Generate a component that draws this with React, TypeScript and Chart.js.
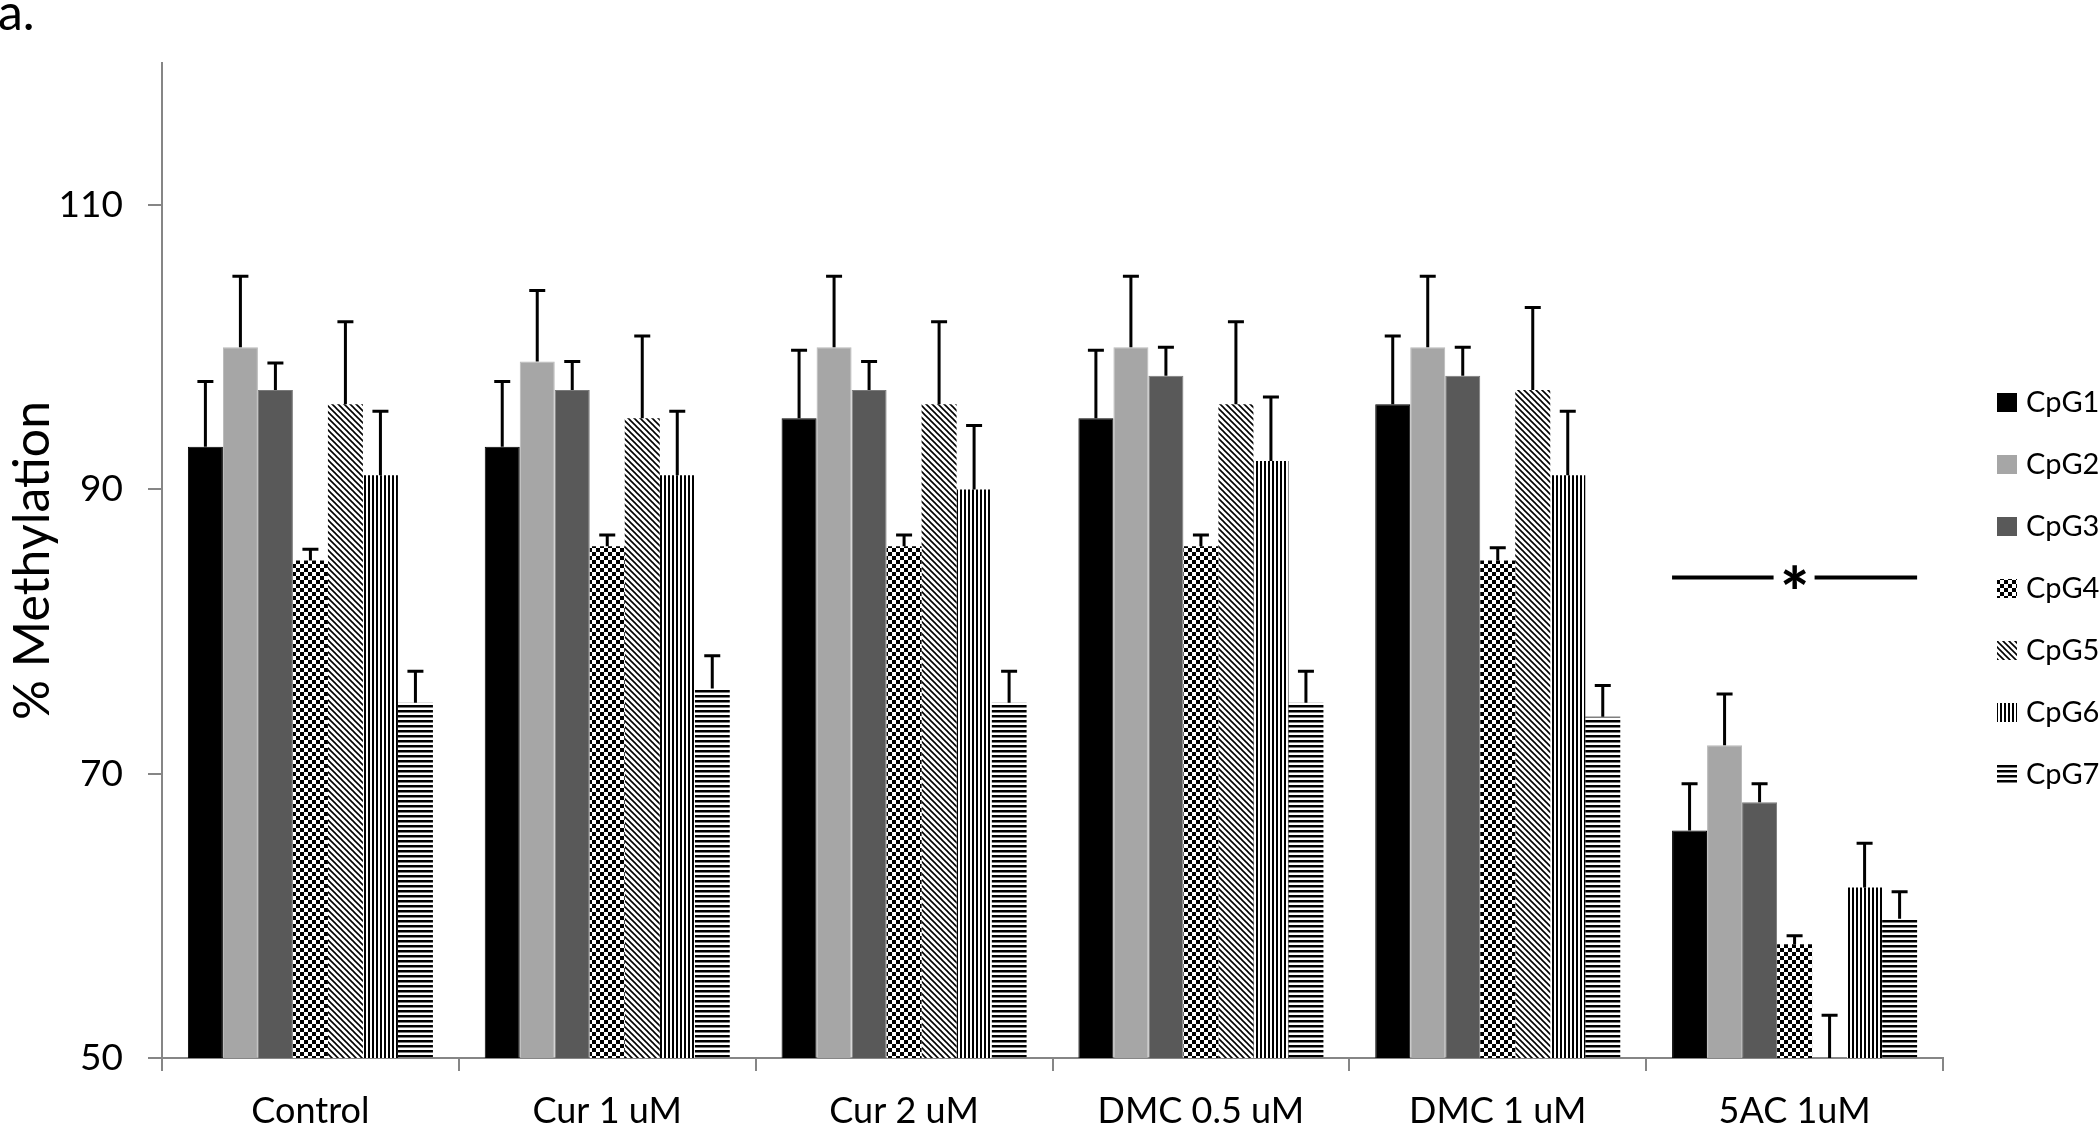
import React, { useEffect, useRef } from 'react';
import { Chart, registerables } from 'chart.js';

Chart.register(...registerables);

// ---------- data ----------
const CATEGORIES = ['Control', 'Cur 1 uM', 'Cur 2 uM', 'DMC 0.5 uM', 'DMC 1 uM', '5AC 1uM'];
const SERIES_LABELS = ['CpG1', 'CpG2', 'CpG3', 'CpG4', 'CpG5', 'CpG6', 'CpG7'];

const CPG1 = [93, 93, 95, 95, 96, 66];
const CPG2 = [100, 99, 100, 100, 100, 72];
const CPG3 = [97, 97, 97, 98, 98, 68];
const CPG4 = [85, 86, 86, 86, 85, 58];
const CPG5 = [96, 95, 96, 96, 97, 47];
const CPG6 = [91, 91, 90, 92, 91, 62];
const CPG7 = [75, 76, 75, 75, 74, 59.8];

const ERR1 = [4.6, 4.6, 4.8, 4.8, 4.8, 3.3];
const ERR2 = [5.0, 5.0, 5.0, 5.0, 5.0, 3.6];
const ERR3 = [1.9, 2.0, 2.0, 2.0, 2.0, 1.3];
const ERR4 = [0.8, 0.8, 0.8, 0.8, 0.9, 0.6];
const ERR5 = [5.8, 5.8, 5.8, 5.8, 5.8, 6.0];
const ERR6 = [4.5, 4.5, 4.5, 4.5, 4.5, 3.1];
const ERR7 = [2.2, 2.3, 2.2, 2.2, 2.2, 1.9];

const Y_MIN = 50;
const Y_MAX = 120;
const Y_TICKS = [50, 70, 90, 110];
const Y_TITLE = '% Methylation';
const PANEL_LABEL = 'a.';
const SIG_CATEGORY = '5AC 1uM';
const SIG_LEVEL = 83.8;
const SIG_TEXT = '*';

const FONT = 'Lato, "Open Sans", "DejaVu Sans", sans-serif';

type Kind = 'checker' | 'diag' | 'vert' | 'horiz';

function makePattern(kind: Kind): CanvasPattern | string {
  const c = document.createElement('canvas');
  const g = c.getContext('2d')!;
  if (kind === 'checker') {
    c.width = 8; c.height = 8;
    g.fillStyle = '#fff'; g.fillRect(0, 0, 8, 8);
    g.fillStyle = '#000'; g.fillRect(0, 0, 4, 4); g.fillRect(4, 4, 4, 4);
  } else if (kind === 'diag') {
    c.width = 6; c.height = 6;
    g.fillStyle = '#fff'; g.fillRect(0, 0, 6, 6);
    g.strokeStyle = '#000'; g.lineWidth = 1.6;
    for (let k = -1; k <= 1; k++) {
      g.beginPath(); g.moveTo(-1, -1 + 6 * k); g.lineTo(7, 7 + 6 * k); g.stroke();
    }
  } else if (kind === 'vert') {
    c.width = 4; c.height = 4;
    g.fillStyle = '#fff'; g.fillRect(0, 0, 4, 4);
    g.fillStyle = '#000'; g.fillRect(0, 0, 2, 4);
  } else {
    c.width = 5; c.height = 5;
    g.fillStyle = '#fff'; g.fillRect(0, 0, 5, 5);
    g.fillStyle = '#000'; g.fillRect(0, 0, 5, 2.5);
  }
  const ctx = document.createElement('canvas').getContext('2d')!;
  return ctx.createPattern(c, 'repeat') || '#000';
}

const errorBarsPlugin = {
  id: 'errorBars',
  afterDatasetsDraw(chart: any) {
    const ctx = chart.ctx;
    const yScale = chart.scales.y;
    const area = chart.chartArea;
    ctx.save();
    ctx.strokeStyle = '#000';
    ctx.lineWidth = 3;
    chart.data.datasets.forEach((ds: any, i: number) => {
      const meta = chart.getDatasetMeta(i);
      meta.data.forEach((bar: any, j: number) => {
        const v = ds.data[j];
        const e = ds.errors[j];
        const yTop = yScale.getPixelForValue(v + e);
        const yBase = Math.min(bar.y, area.bottom);
        ctx.beginPath();
        ctx.moveTo(bar.x, yBase);
        ctx.lineTo(bar.x, yTop);
        ctx.moveTo(bar.x - 8, yTop);
        ctx.lineTo(bar.x + 8, yTop);
        ctx.stroke();
      });
    });
    ctx.restore();
  },
};

const significancePlugin = {
  id: 'significance',
  afterDatasetsDraw(chart: any) {
    const ctx = chart.ctx;
    const idx = CATEGORIES.indexOf(SIG_CATEGORY);
    const first = chart.getDatasetMeta(0).data[idx];
    const last = chart.getDatasetMeta(chart.data.datasets.length - 1).data[idx];
    const x0 = first.x - first.width / 2;
    const x1 = last.x + last.width / 2;
    const cx = (x0 + x1) / 2;
    const y = chart.scales.y.getPixelForValue(SIG_LEVEL);
    ctx.save();
    ctx.strokeStyle = '#000';
    ctx.lineWidth = 4;
    ctx.beginPath();
    ctx.moveTo(x0, y); ctx.lineTo(cx - 21, y);
    ctx.moveTo(cx + 20, y); ctx.lineTo(x1, y);
    ctx.stroke();
    ctx.fillStyle = '#000';
    ctx.font = `900 68px ${FONT}`;
    ctx.textAlign = 'center';
    ctx.textBaseline = 'alphabetic';
    ctx.fillText(SIG_TEXT, cx, y + 39);
    ctx.restore();
  },
};

const legendPlugin = {
  id: 'customLegend',
  afterDraw(chart: any) {
    const ctx = chart.ctx;
    const area = chart.chartArea;
    const bx = area.right + 54;
    const top = 402;
    const step = 62;
    ctx.save();
    chart.data.datasets.forEach((ds: any, i: number) => {
      const cy = top + i * step;
      ctx.fillStyle = ds.backgroundColor;
      ctx.fillRect(bx, cy - 9, 20, 19);
      ctx.fillStyle = '#000';
      ctx.font = `29px ${FONT}`;
      ctx.textAlign = 'left';
      ctx.textBaseline = 'middle';
      ctx.fillText(ds.label, bx + 29, cy + 1);
    });
    ctx.restore();
  },
};

const panelLabelPlugin = {
  id: 'panelLabel',
  afterDraw(chart: any) {
    const ctx = chart.ctx;
    ctx.save();
    ctx.fillStyle = '#000';
    ctx.font = `50px ${FONT}`;
    ctx.textAlign = 'left';
    ctx.textBaseline = 'alphabetic';
    ctx.fillText(PANEL_LABEL, -2, 30);
    ctx.restore();
  },
};

export default function App() {
  const ref = useRef<HTMLCanvasElement | null>(null);

  useEffect(() => {
    if (!ref.current) return;
    const fills: (string | CanvasPattern)[] = [
      '#000000',
      '#a6a6a6',
      '#595959',
      makePattern('checker'),
      makePattern('diag'),
      makePattern('vert'),
      makePattern('horiz'),
    ];
    const borders = ['#000000', '#b8b8b8', '#7a7a7a', '#000', '#000', '#000', '#000'];
    const borderWidths = [1, 1, 1, 0, 0, 0, 0];
    const values = [CPG1, CPG2, CPG3, CPG4, CPG5, CPG6, CPG7];
    const errors = [ERR1, ERR2, ERR3, ERR4, ERR5, ERR6, ERR7];

    const chart = new Chart(ref.current, {
      type: 'bar',
      data: {
        labels: CATEGORIES,
        datasets: SERIES_LABELS.map((label, i) => ({
          label,
          data: values[i],
          errors: errors[i],
          backgroundColor: fills[i],
          borderColor: borders[i],
          borderWidth: borderWidths[i],
          categoryPercentage: 0.8255,
          barPercentage: 1.0,
          clip: 0,
        })) as any,
      },
      options: {
        responsive: false,
        animation: false,
        devicePixelRatio: 1,
        layout: { padding: { top: 63, right: 157, bottom: 0, left: 0 } },
        plugins: {
          legend: { display: false },
          tooltip: { enabled: false },
        },
        scales: {
          x: {
            type: 'category',
            offset: true,
            grid: {
              offset: true,
              drawOnChartArea: false,
              drawTicks: true,
              tickLength: 13,
              color: '#868686',
              lineWidth: 2,
            },
            border: { display: true, color: '#868686', width: 2 },
            ticks: {
              color: '#000',
              font: { family: FONT, size: 36 },
              padding: 19,
              maxRotation: 0,
              autoSkip: false,
            },
            afterFit: (scale: any) => { scale.height = 66; },
          },
          y: {
            type: 'linear',
            min: Y_MIN,
            max: Y_MAX,
            grid: {
              drawOnChartArea: false,
              drawTicks: true,
              tickLength: 14,
              color: '#868686',
              lineWidth: 2,
            },
            border: { display: true, color: '#868686', width: 2 },
            ticks: {
              color: '#000',
              font: { family: FONT, size: 37 },
              padding: 25,
            },
            afterBuildTicks: (scale: any) => {
              scale.ticks = Y_TICKS.map((v) => ({ value: v }));
            },
            title: {
              display: true,
              text: Y_TITLE,
              color: '#000',
              font: { family: FONT, size: 50, lineHeight: 1.3 },
              padding: 0,
            },
            afterFit: (scale: any) => { scale.width = 162; },
          },
        },
      } as any,
      plugins: [errorBarsPlugin, significancePlugin, legendPlugin, panelLabelPlugin],
    });
    return () => chart.destroy();
  }, []);

  return (
    <div style={{ position: 'fixed', left: 0, top: 0, width: 2100, height: 1124, background: '#fff' }}>
      <canvas ref={ref} width={2100} height={1124} style={{ display: 'block', width: 2100, height: 1124 }} />
    </div>
  );
}
